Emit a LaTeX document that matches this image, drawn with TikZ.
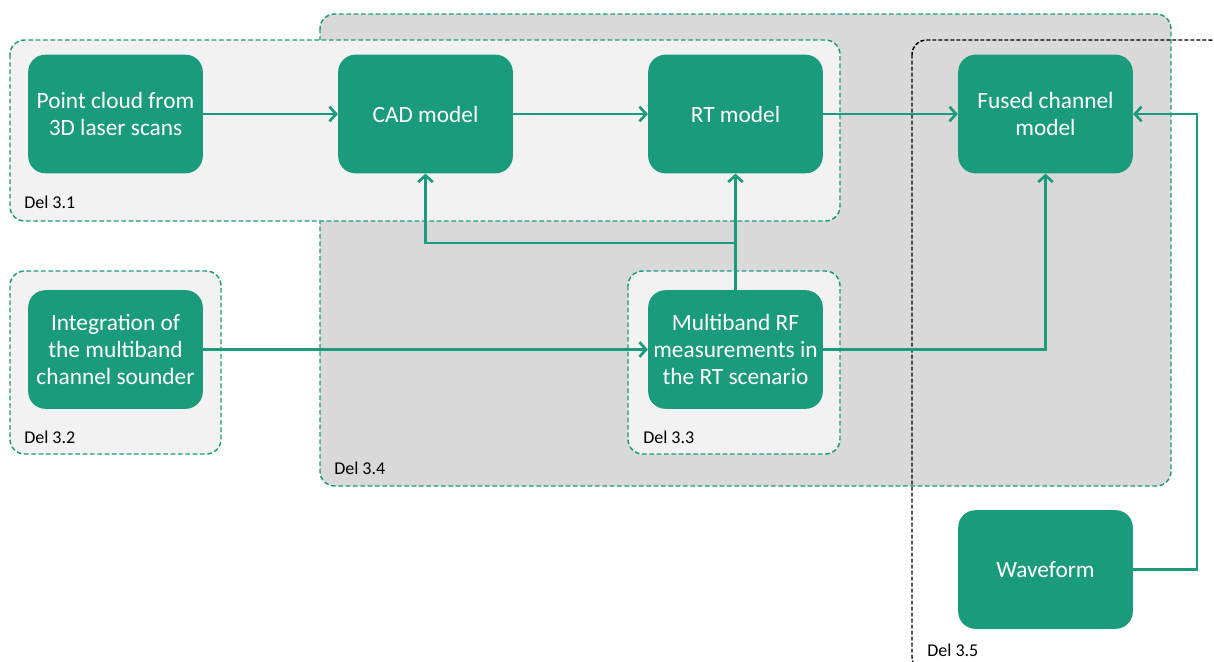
\documentclass[tikz,border=0pt]{standalone}
\usepackage{fontspec}
\setmainfont{Carlito}
\usetikzlibrary{arrows.meta}
\definecolor{delgreen}{RGB}{26,156,124}
\definecolor{lightbg}{RGB}{242,242,242}
\definecolor{darkbg}{RGB}{217,217,217}
\tikzset{
 task/.style={fill=delgreen,rounded corners=13pt,minimum width=131pt,minimum height=89pt,inner sep=0pt,align=center,text=white,font=\fontsize{17.5}{20.5}\selectfont},
 group/.style={draw=delgreen,dash pattern=on 3.5pt off 2pt,line width=1.1pt,rounded corners=11pt},
 dellabel/.style={anchor=base west,inner sep=0pt,font=\fontsize{13.5}{16}\selectfont},
 flow/.style={draw=delgreen,line width=2pt,-{Straight Barb[length=5pt,width=11pt]}}
}
\begin{document}
\begin{tikzpicture}[x=0.75pt,y=-0.75pt]
 \clip (0,0) rectangle (1214,661);
 \fill[white] (0,0) rectangle (1214,661);
 \draw[group,fill=darkbg] (320,14) rectangle (1171,486);
 \draw[group,fill=lightbg] (10,40) rectangle (840,221);
 \draw[group,fill=lightbg] (10,271) rectangle (221,454);
 \draw[group,fill=lightbg] (628,271) rectangle (840,454);
 \draw[black,line width=1.1pt,dash pattern=on 3pt off 1.5pt,rounded corners=11pt] (912,40) rectangle (1224,672);
 \node[dellabel] (del31) at (24,208) {Del 3.1};
 \node[dellabel] (del32) at (24,443) {Del 3.2};
 \node[dellabel] (del33) at (643,443) {Del 3.3};
 \node[dellabel] (del34) at (334,474) {Del 3.4};
 \node[dellabel] (del35) at (927,656) {Del 3.5};
 \node[task] (cloud) at (115.5,114) {Point cloud from\\3D laser scans};
 \node[task] (cad) at (425.5,114) {CAD model};
 \node[task] (rt) at (735.5,114) {RT model};
 \node[task] (fused) at (1045.5,114) {Fused channel\\model};
 \node[task] (sounder) at (115.5,349.5) {Integration of\\the multiband\\channel sounder};
 \node[task] (meas) at (735.5,349.5) {Multiband RF\\measurements in\\the RT scenario};
 \node[task] (wave) at (1045.5,569.5) {Waveform};
 \coordinate (split) at (735.5,243);
 \coordinate (wturn) at (1197,569.5);
 \draw[flow] (cloud) -- (cad);
 \draw[flow] (cad) -- (rt);
 \draw[flow] (rt) -- (fused);
 \draw[flow] (sounder) -- (meas);
 \draw[flow] (meas.north) -- (rt.south);
 \draw[flow] (split) -| (cad.south);
 \draw[flow] (meas.east) -| (fused.south);
 \draw[flow] (wave.east) -- (wturn) |- (fused.east);
\end{tikzpicture}
\end{document}
